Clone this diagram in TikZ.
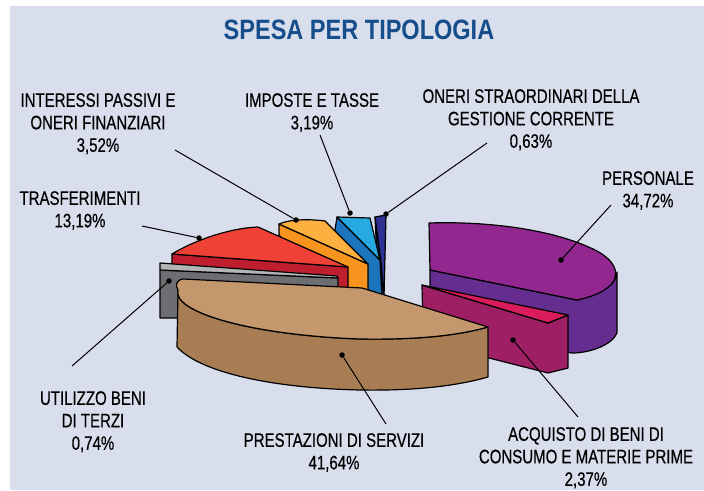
\documentclass[tikz,border=0pt]{standalone}
\usepackage{fontspec}
\setmainfont{Liberation Sans}[FakeStretch=0.77,FakeBold=0.4]
\newfontfamily\titlefont{Liberation Sans}[FakeStretch=0.84]
\definecolor{panel}{RGB}{217,222,236}
\definecolor{titleblue}{RGB}{22,78,140}
\definecolor{browntop}{RGB}{196,152,108}
\definecolor{brownside}{RGB}{168,125,84}
\definecolor{graytop}{RGB}{178,180,182}
\definecolor{grayside}{RGB}{109,110,113}
\definecolor{redtop}{RGB}{239,65,54}
\definecolor{redside}{RGB}{190,30,45}
\definecolor{orangetop}{RGB}{251,176,64}
\definecolor{orangeside}{RGB}{247,148,30}
\definecolor{bluetop}{RGB}{39,170,225}
\definecolor{blueside}{RGB}{28,117,188}
\definecolor{navytop}{RGB}{46,49,146}
\definecolor{navyside}{RGB}{38,40,110}
\definecolor{purpletop}{RGB}{146,39,143}
\definecolor{purpleside}{RGB}{102,45,145}
\definecolor{magtop}{RGB}{218,28,92}
\definecolor{magside}{RGB}{158,31,99}
\begin{document}
\begin{tikzpicture}[x=1pt,y=-1pt]
\tikzset{slice/.style={draw=black, line width=1.2pt, line join=round},
  leader/.style={draw=black, line width=1pt},
  dot/.style={circle, fill=black, inner sep=0pt, minimum size=5.5pt},
  lbl/.style={align=center, inner sep=0pt, anchor=north, font=\fontsize{19.5}{22.5}\selectfont}}
\fill[white] (0,0) rectangle (704,490);
\fill[panel] (10,6) rectangle (704,490);
\node[font=\titlefont\bfseries\fontsize{28}{30}\selectfont, text=titleblue, inner sep=0pt] (title) at (359,30) {SPESA PER TIPOLOGIA};
% personale
\draw[slice, fill=purpleside] (430,270) -- (577,300) .. controls (598,295) and (617,285) .. (617,272) -- (617,333) .. controls (612,345) and (590,353) .. (572,353) -- (430,330) -- cycle;
\draw[slice, fill=purpletop] (430,270) -- (429,223) .. controls (490,221) and (555,230) .. (595,250) .. controls (625,265) and (625,290) .. (577,300) -- cycle;
% acquisto
\draw[slice, fill=magside] (422,285) -- (548,323) -- (568,315) -- (568,368) -- (548,373) -- (430,343) -- (423,330) -- cycle;
\draw[slice, fill=magtop] (422,285) -- (568,315) -- (548,323) -- cycle;
% oneri straordinari
\draw[slice, fill=navyside] (375,217) -- (381,262) -- (384,297) -- (379,297) -- cycle;
\draw[slice, fill=navytop] (375,217) -- (386,215) -- (384,297) -- (381,262) -- cycle;
% imposte
\draw[slice, fill=blueside] (337,217) -- (380,260) -- (382,298) -- (360,298) -- (335,230) -- cycle;
\draw[slice, fill=bluetop] (337,217) -- (370,218) -- (380,260) -- cycle;
% interessi
\draw[slice, fill=orangeside] (279,224) -- (368,264) -- (368,295) -- (330,295) -- (279,235) -- cycle;
\draw[slice, fill=orangetop] (279,224) .. controls (290,219) and (310,219) .. (325,221) -- (368,264) -- cycle;
% trasferimenti
\draw[slice, fill=redside] (172,254) -- (348,267) -- (348,290) -- (300,290) -- (172,264) -- cycle;
\draw[slice, fill=redtop] (172,254) .. controls (195,240) and (230,228) .. (258,227) -- (348,267) -- cycle;
% utilizzo beni
\draw[slice, fill=grayside] (160,270) -- (338,278) -- (338,292) -- (190,295) -- (178,318) -- (160,318) -- cycle;
\draw[slice, fill=graytop] (160,263) -- (337,276) -- (338,278) -- (160,270) -- cycle;
% prestazioni
\draw[slice, fill=brownside] (178,290) .. controls (172,312) and (250,335) .. (360,339) .. controls (420,340) and (460,335) .. (488,327) -- (488,377) .. controls (460,385) and (420,391) .. (360,390) .. controls (270,388) and (200,372) .. (177,347) -- cycle;
\draw[slice, fill=browntop] (362,288) -- (183,279) .. controls (176,280) and (175,286) .. (178,290) .. controls (172,312) and (250,335) .. (360,339) .. controls (420,340) and (460,335) .. (488,327) -- cycle;
% dots
\node[dot] (dpres) at (342,355) {};
\node[dot] (dacq) at (513,340) {};
\node[dot] (dpers) at (561,260) {};
\node[dot] (dutil) at (169,281) {};
\node[dot] (dtrasf) at (199,238) {};
\node[dot] (dint) at (296,220) {};
\node[dot] (dimp) at (350,213) {};
\node[dot] (dstra) at (386,214) {};
% labels
\node[lbl] (lint) at (98,93) {INTERESSI PASSIVI E\\ONERI FINANZIARI\\3,52\%};
\node[lbl] (limp) at (312,93) {IMPOSTE E TASSE\\3,19\%};
\node[lbl] (lstra) at (531,89) {ONERI STRAORDINARI DELLA\\GESTIONE CORRENTE\\0,63\%};
\node[lbl] (lpers) at (648,171) {PERSONALE\\34,72\%};
\node[lbl] (ltrasf) at (80,191) {TRASFERIMENTI\\13,19\%};
\node[lbl] (lutil) at (93,391) {UTILIZZO BENI\\DI TERZI\\0,74\%};
\node[lbl] (lpres) at (334,433) {PRESTAZIONI DI SERVIZI\\41,64\%};
\node[lbl] (lacq) at (586,427) {ACQUISTO DI BENI DI\\CONSUMO E MATERIE PRIME\\2,37\%};
% leaders
\coordinate (epres) at (386,424);
\coordinate (eacq) at (578,417);
\coordinate (epers) at (611,205);
\coordinate (eutil) at (72,366);
\coordinate (etrasf) at (142,226);
\coordinate (eint) at (175,150);
\coordinate (eimp) at (320,135);
\coordinate (estra) at (487,143);
\draw[leader] (dpres) -- (epres);
\draw[leader] (dacq) -- (eacq);
\draw[leader] (dpers) -- (epers);
\draw[leader] (dutil) -- (eutil);
\draw[leader] (dtrasf) -- (etrasf);
\draw[leader] (dint) -- (eint);
\draw[leader] (dimp) -- (eimp);
\draw[leader] (dstra) -- (estra);
\end{tikzpicture}
\end{document}
